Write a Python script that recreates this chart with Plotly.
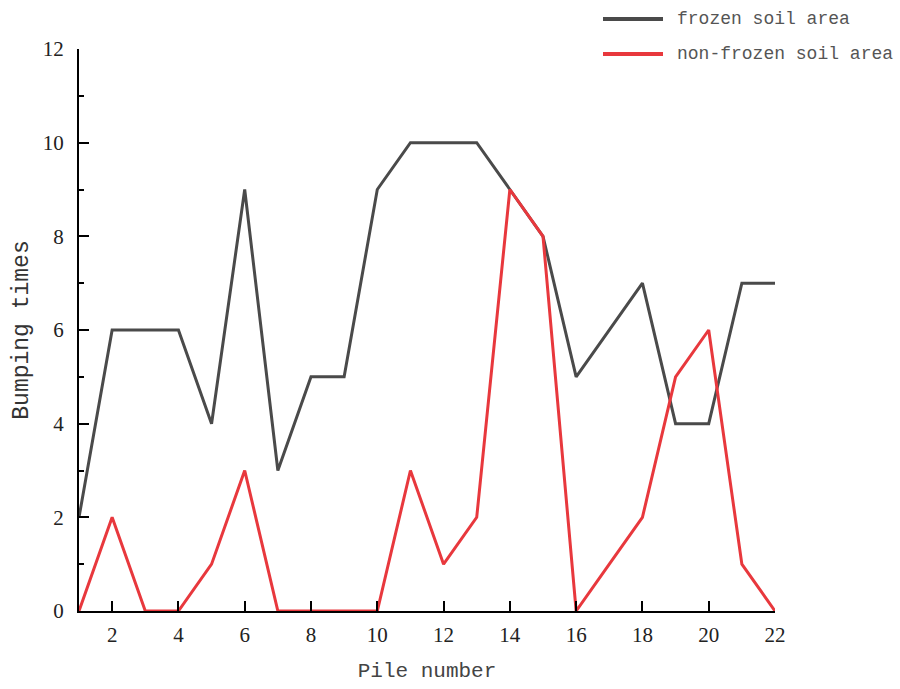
import plotly.graph_objects as go

# Pile numbers and bumping counts per soil area
pile_numbers = list(range(1, 23))
frozen_counts = [2, 6, 6, 6, 4, 9, 3, 5, 5, 9, 10, 10, 10, 9, 8, 5, 6, 7, 4, 4, 7, 7]
nonfrozen_counts = [0, 2, 0, 0, 1, 3, 0, 0, 0, 0, 3, 1, 2, 9, 8, 0, 1, 2, 5, 6, 1, 0]
series_names = ["frozen soil area", "non-frozen soil area"]
series_colors = ["#4a4a4a", "#e8383d"]
x_ticks = list(range(2, 23, 2))
y_ticks = list(range(0, 13, 2))

fig = go.Figure()
for name, vals, col in zip(series_names, [frozen_counts, nonfrozen_counts], series_colors):
    fig.add_trace(go.Scatter(
        x=pile_numbers, y=vals, mode="lines", name=name,
        line=dict(color=col, width=3), showlegend=False, cliponaxis=False,
    ))

# Hand-drawn legend in the top-right corner
legend_rows = [19, 54]
for name, col, ypx in zip(series_names, series_colors, legend_rows):
    fig.add_shape(type="line", xref="paper", yref="paper",
                  x0=(603 - 79) / 696, x1=(663 - 79) / 696,
                  y0=(611 - ypx) / 562, y1=(611 - ypx) / 562,
                  line=dict(color=col, width=4))
    fig.add_annotation(text=name, xref="paper", yref="paper",
                       x=(675 - 79) / 696, y=(611 - ypx) / 562,
                       xanchor="left", yanchor="middle", showarrow=False,
                       font=dict(family="Liberation Mono, monospace", size=18, color="#555555"))

axis_font = dict(family="Liberation Serif, serif", size=21, color="#222222")

fig.update_layout(
    width=900, height=689,
    margin=dict(l=79, r=125, t=49, b=78),
    paper_bgcolor="white", plot_bgcolor="white",
    xaxis=dict(
        range=[1, 22], tickvals=x_ticks, ticks="inside", ticklen=10, tickwidth=2,
        tickcolor="black", showline=True, linecolor="black", linewidth=2,
        showgrid=False, zeroline=False, tickfont=axis_font, ticklabelstandoff=4,
        title=dict(text="Pile number",
                   font=dict(family="Liberation Mono, monospace", size=21, color="#444444"),
                   standoff=16),
    ),
    yaxis=dict(
        range=[0, 12], tickvals=y_ticks, ticks="inside", ticklen=10, tickwidth=2,
        tickcolor="black", showline=True, linecolor="black", linewidth=2,
        showgrid=False, zeroline=False, tickfont=axis_font, ticklabelstandoff=9,
        minor=dict(dtick=1, ticks="inside", ticklen=5, tickwidth=2, tickcolor="black", showgrid=False),
        title=dict(text="Bumping times",
                   font=dict(family="Liberation Mono, monospace", size=23, color="#333333"),
                   standoff=8),
    ),
)

fig.write_html("out.html")
